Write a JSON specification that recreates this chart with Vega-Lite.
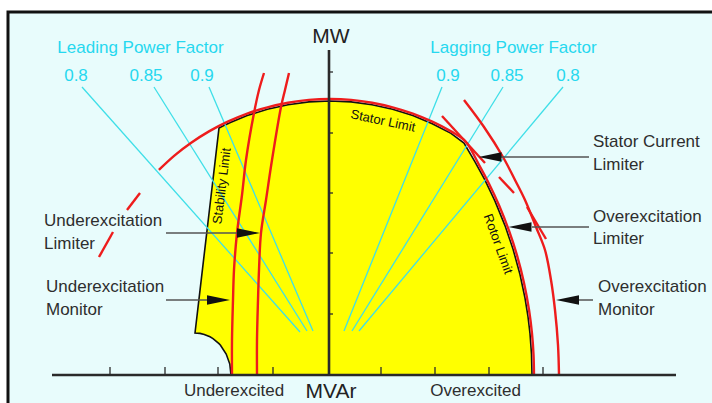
{
  "$schema": "https://vega.github.io/schema/vega-lite/v6.json",
  "width": 712,
  "height": 403,
  "autosize": {"type": "fit", "contains": "padding"},
  "padding": 0,
  "background": "white",
  "config": {"view": {"stroke": null}, "text": {"font": "Liberation Sans"}},
  "datasets": {
    "frame": [{"x": -321, "y": 363, "x2": 420, "y2": -80}],
    "region": [
      {"x": -134, "y": 42, "y2": 42},
      {"x": -129, "y": 84.7, "y2": 41.6},
      {"x": -124.7, "y": 121.4, "y2": 40.6},
      {"x": -119, "y": 170, "y2": 38.2},
      {"x": -116, "y": 195.7, "y2": 36.4},
      {"x": -110, "y": 247, "y2": 31.3},
      {"x": -108.5, "y": 247.8, "y2": 29.7},
      {"x": -102.8, "y": 250.6, "y2": 21},
      {"x": -99.2, "y": 252.2, "y2": 10.9},
      {"x": -98, "y": 252.8, "y2": 0},
      {"x": -81.8, "y": 259.4, "y2": 0},
      {"x": -61.6, "y": 265.7, "y2": 0},
      {"x": -41, "y": 270.3, "y2": 0},
      {"x": -20.1, "y": 273.1, "y2": 0},
      {"x": 1, "y": 274, "y2": 0},
      {"x": 22.1, "y": 273.1, "y2": 0},
      {"x": 43, "y": 270.3, "y2": 0},
      {"x": 63.6, "y": 265.7, "y2": 0},
      {"x": 83.8, "y": 259.4, "y2": 0},
      {"x": 103.3, "y": 251.3, "y2": 0},
      {"x": 122, "y": 241.6, "y2": 0},
      {"x": 135, "y": 232, "y2": 0},
      {"x": 146, "y": 213.1, "y2": 0},
      {"x": 156, "y": 194.8, "y2": 0},
      {"x": 166, "y": 173.9, "y2": 0},
      {"x": 176, "y": 149.4, "y2": 0},
      {"x": 184, "y": 126, "y2": 0},
      {"x": 191, "y": 100.5, "y2": 0},
      {"x": 196, "y": 77, "y2": 0},
      {"x": 199, "y": 58.3, "y2": 0},
      {"x": 201, "y": 41.3, "y2": 0},
      {"x": 202.5, "y": 20.7, "y2": 0},
      {"x": 203, "y": 0, "y2": 0}
    ],
    "red": [
      {"id": "scl", "o": 1, "x": -170.1, "y": 205.1},
      {"id": "scl", "o": 2, "x": -154.6, "y": 219.4},
      {"id": "scl", "o": 3, "x": -137.8, "y": 232.2},
      {"id": "scl", "o": 4, "x": -120, "y": 243.6},
      {"id": "scl", "o": 5, "x": -101.3, "y": 253.3},
      {"id": "scl", "o": 6, "x": -81.8, "y": 261.4},
      {"id": "scl", "o": 7, "x": -61.6, "y": 267.7},
      {"id": "scl", "o": 8, "x": -41, "y": 272.3},
      {"id": "scl", "o": 9, "x": -20.1, "y": 275.1},
      {"id": "scl", "o": 10, "x": 1, "y": 276},
      {"id": "scl", "o": 11, "x": 22.1, "y": 275.1},
      {"id": "scl", "o": 12, "x": 43, "y": 272.3},
      {"id": "scl", "o": 13, "x": 63.6, "y": 267.7},
      {"id": "scl", "o": 14, "x": 83.8, "y": 261.4},
      {"id": "scl", "o": 15, "x": 103.3, "y": 253.3},
      {"id": "scl", "o": 16, "x": 122, "y": 243.6},
      {"id": "scl", "o": 17, "x": 136, "y": 234.2},
      {"id": "scl", "o": 18, "x": 150, "y": 210.2},
      {"id": "scl", "o": 19, "x": 160, "y": 191.3},
      {"id": "scl", "o": 20, "x": 170, "y": 169.7},
      {"id": "scl", "o": 21, "x": 180, "y": 144.3},
      {"id": "scl", "o": 22, "x": 188, "y": 119.6},
      {"id": "scl", "o": 23, "x": 195, "y": 92.1},
      {"id": "scl", "o": 24, "x": 200, "y": 65.3},
      {"id": "scl", "o": 25, "x": 203, "y": 41.4},
      {"id": "scl", "o": 26, "x": 204.5, "y": 20.7},
      {"id": "scl", "o": 27, "x": 205, "y": 0},
      {"id": "dL1", "o": 1, "x": -189, "y": 182},
      {"id": "dL1", "o": 2, "x": -202, "y": 165},
      {"id": "dL2", "o": 1, "x": -216, "y": 143},
      {"id": "dL2", "o": 2, "x": -230, "y": 118},
      {"id": "dR1", "o": 1, "x": 113, "y": 259},
      {"id": "dR1", "o": 2, "x": 156, "y": 212},
      {"id": "dR2", "o": 1, "x": 170, "y": 198},
      {"id": "dR2", "o": 2, "x": 185, "y": 182},
      {"id": "dR3", "o": 1, "x": 198, "y": 168},
      {"id": "dR3", "o": 2, "x": 217, "y": 136},
      {"id": "oem", "o": 1, "x": 135, "y": 275},
      {"id": "oem", "o": 2, "x": 155, "y": 248},
      {"id": "oem", "o": 3, "x": 174, "y": 218},
      {"id": "oem", "o": 4, "x": 186, "y": 195},
      {"id": "oem", "o": 5, "x": 196, "y": 175},
      {"id": "oem", "o": 6, "x": 207, "y": 148},
      {"id": "oem", "o": 7, "x": 216, "y": 125},
      {"id": "oem", "o": 8, "x": 222, "y": 95},
      {"id": "oem", "o": 9, "x": 226, "y": 65},
      {"id": "oem", "o": 10, "x": 229, "y": 30},
      {"id": "oem", "o": 11, "x": 230, "y": 0},
      {"id": "uem", "o": 1, "x": -65, "y": 302},
      {"id": "uem", "o": 2, "x": -70, "y": 285},
      {"id": "uem", "o": 3, "x": -75, "y": 262},
      {"id": "uem", "o": 4, "x": -83, "y": 215},
      {"id": "uem", "o": 5, "x": -87, "y": 180},
      {"id": "uem", "o": 6, "x": -92, "y": 142},
      {"id": "uem", "o": 7, "x": -95, "y": 105},
      {"id": "uem", "o": 8, "x": -96, "y": 75},
      {"id": "uem", "o": 9, "x": -97, "y": 35},
      {"id": "uem", "o": 10, "x": -97, "y": 0},
      {"id": "uel", "o": 1, "x": -40, "y": 302},
      {"id": "uel", "o": 2, "x": -44, "y": 285},
      {"id": "uel", "o": 3, "x": -48, "y": 268},
      {"id": "uel", "o": 4, "x": -57, "y": 215},
      {"id": "uel", "o": 5, "x": -63, "y": 175},
      {"id": "uel", "o": 6, "x": -68, "y": 142},
      {"id": "uel", "o": 7, "x": -70, "y": 105},
      {"id": "uel", "o": 8, "x": -71, "y": 75},
      {"id": "uel", "o": 9, "x": -72, "y": 35},
      {"id": "uel", "o": 10, "x": -72, "y": 0}
    ],
    "pf": [
      {"pf": "0.8 leading", "x": -247, "y": 288, "x2": -29, "y2": 43},
      {"pf": "0.85 leading", "x": -175, "y": 288, "x2": -22, "y2": 44},
      {"pf": "0.9 leading", "x": -120, "y": 288, "x2": -16, "y2": 44},
      {"pf": "0.9 lagging", "x": 113, "y": 288, "x2": 15, "y2": 44},
      {"pf": "0.85 lagging", "x": 174, "y": 288, "x2": 23, "y2": 44},
      {"pf": "0.8 lagging", "x": 234, "y": 288, "x2": 30, "y2": 44}
    ],
    "axes": [
      {"x": -277, "y": 0, "x2": 347, "y2": 0},
      {"x": 0, "y": 0, "x2": 0, "y2": 325}
    ],
    "ticks": [
      {"x": -219, "y": 0, "x2": -219, "y2": 8},
      {"x": -164, "y": 0, "x2": -164, "y2": 8},
      {"x": -111, "y": 0, "x2": -111, "y2": 8},
      {"x": -56, "y": 0, "x2": -56, "y2": 8},
      {"x": 52, "y": 0, "x2": 52, "y2": 8},
      {"x": 106, "y": 0, "x2": 106, "y2": 8},
      {"x": 160, "y": 0, "x2": 160, "y2": 8},
      {"x": 214, "y": 0, "x2": 214, "y2": 8},
      {"x": 0, "y": 61, "x2": 4, "y2": 61},
      {"x": 0, "y": 122, "x2": 4, "y2": 122},
      {"x": 0, "y": 182, "x2": 4, "y2": 182},
      {"x": 0, "y": 242, "x2": 4, "y2": 242},
      {"x": 0, "y": 303, "x2": 4, "y2": 303}
    ],
    "arrowlines": [
      {"name": "UEL", "x": -163, "y": 142, "x2": -92, "y2": 142},
      {"name": "UEM", "x": -163, "y": 75, "x2": -122, "y2": 75},
      {"name": "SCL", "x": 171, "y": 218, "x2": 260, "y2": 218},
      {"name": "OEL", "x": 203, "y": 148, "x2": 260, "y2": 148},
      {"name": "OEM", "x": 249, "y": 75, "x2": 264, "y2": 75}
    ],
    "headsR": [
      {"name": "UEL", "x": -80.5, "y": 142},
      {"name": "UEM", "x": -110.5, "y": 75}
    ],
    "headsL": [
      {"name": "SCL", "x": 161, "y": 218},
      {"name": "OEL", "x": 191, "y": 148},
      {"name": "OEM", "x": 238.5, "y": 75}
    ],
    "labels": [
      {"t": "Underexcitation", "x": -285, "y": 149},
      {"t": "Limiter", "x": -285, "y": 126},
      {"t": "Underexcitation", "x": -283, "y": 83},
      {"t": "Monitor", "x": -283, "y": 60},
      {"t": "Stator Current", "x": 264, "y": 228},
      {"t": "Limiter", "x": 264, "y": 205},
      {"t": "Overexcitation", "x": 264, "y": 153},
      {"t": "Limiter", "x": 264, "y": 131},
      {"t": "Overexcitation", "x": 269, "y": 83},
      {"t": "Monitor", "x": 269, "y": 60}
    ],
    "axistitles": [
      {"t": "MW", "x": 2, "y": 332},
      {"t": "MVAr", "x": 2, "y": -23}
    ],
    "sides": [
      {"t": "Underexcited", "x": -95, "y": -21},
      {"t": "Overexcited", "x": 146.5, "y": -21}
    ],
    "cyantext": [
      {"t": "Leading Power Factor", "x": -188.5, "y": 322},
      {"t": "Lagging Power Factor", "x": 184.5, "y": 322},
      {"t": "0.8", "x": -253, "y": 294},
      {"t": "0.85", "x": -183, "y": 294},
      {"t": "0.9", "x": -127, "y": 294},
      {"t": "0.9", "x": 119, "y": 294},
      {"t": "0.85", "x": 178, "y": 294},
      {"t": "0.8", "x": 239, "y": 294}
    ],
    "statorlabel": [{"t": "Stator Limit", "x": 54, "y": 254}],
    "rotorlabel": [{"t": "Rotor Limit", "x": 169, "y": 131}],
    "stablabel": [{"t": "Stability Limit", "x": -107, "y": 189}]
  },
  "encoding": {
    "x": {"field": "x", "type": "quantitative", "scale": {"domain": [-329, 383], "nice": false, "zero": false}, "axis": null},
    "y": {"field": "y", "type": "quantitative", "scale": {"domain": [-28, 375], "nice": false, "zero": false}, "axis": null}
  },
  "layer": [
    {
      "data": {"name": "frame"},
      "mark": {"type": "rect", "fill": "#e8fcfc", "stroke": "#111111", "strokeWidth": 3, "clip": true},
      "encoding": {"x2": {"field": "x2"}, "y2": {"field": "y2"}}
    },
    {
      "data": {"name": "region"},
      "mark": {"type": "area", "orient": "vertical", "fill": "#ffff00", "fillOpacity": 1, "stroke": "#111111", "strokeWidth": 1.6},
      "encoding": {"y2": {"field": "y2"}}
    },
    {
      "data": {"name": "pf"},
      "mark": {"type": "rule", "color": "#3fdfe8", "strokeWidth": 1.3},
      "encoding": {"x2": {"field": "x2"}, "y2": {"field": "y2"}}
    },
    {
      "data": {"name": "red"},
      "mark": {"type": "line", "color": "#ee1c1c", "strokeWidth": 2.4, "interpolate": "catmull-rom"},
      "encoding": {
        "detail": {"field": "id", "type": "nominal"},
        "order": {"field": "o", "type": "quantitative"}
      }
    },
    {
      "data": {"name": "axes"},
      "mark": {"type": "rule", "color": "#2a2a2a", "strokeWidth": 2.6},
      "encoding": {"x2": {"field": "x2"}, "y2": {"field": "y2"}}
    },
    {
      "data": {"name": "ticks"},
      "mark": {"type": "rule", "color": "#2a2a2a", "strokeWidth": 1.3},
      "encoding": {"x2": {"field": "x2"}, "y2": {"field": "y2"}}
    },
    {
      "data": {"name": "arrowlines"},
      "mark": {"type": "rule", "color": "#555555", "strokeWidth": 1.5},
      "encoding": {"x2": {"field": "x2"}, "y2": {"field": "y2"}}
    },
    {
      "data": {"name": "headsR"},
      "mark": {"type": "point", "shape": "M -1 -0.42 L 1 0 L -1 0.42 Z", "size": 529, "filled": true, "color": "#111111", "opacity": 1, "strokeWidth": 0}
    },
    {
      "data": {"name": "headsL"},
      "mark": {"type": "point", "shape": "M 1 -0.42 L -1 0 L 1 0.42 Z", "size": 529, "filled": true, "color": "#111111", "opacity": 1, "strokeWidth": 0}
    },
    {
      "data": {"name": "labels"},
      "mark": {"type": "text", "align": "left", "baseline": "alphabetic", "fontSize": 17, "color": "#2e2e2e"},
      "encoding": {"text": {"field": "t"}}
    },
    {
      "data": {"name": "axistitles"},
      "mark": {"type": "text", "align": "center", "baseline": "alphabetic", "fontSize": 21, "color": "#222222"},
      "encoding": {"text": {"field": "t"}}
    },
    {
      "data": {"name": "sides"},
      "mark": {"type": "text", "align": "center", "baseline": "alphabetic", "fontSize": 17, "color": "#2e2e2e"},
      "encoding": {"text": {"field": "t"}}
    },
    {
      "data": {"name": "cyantext"},
      "mark": {"type": "text", "align": "center", "baseline": "alphabetic", "fontSize": 17, "color": "#26d8ef"},
      "encoding": {"text": {"field": "t"}}
    },
    {
      "data": {"name": "statorlabel"},
      "mark": {"type": "text", "align": "center", "baseline": "middle", "fontSize": 13, "angle": 12, "color": "#111111"},
      "encoding": {"text": {"field": "t"}}
    },
    {
      "data": {"name": "rotorlabel"},
      "mark": {"type": "text", "align": "center", "baseline": "middle", "fontSize": 13, "angle": 70, "color": "#111111"},
      "encoding": {"text": {"field": "t"}}
    },
    {
      "data": {"name": "stablabel"},
      "mark": {"type": "text", "align": "center", "baseline": "middle", "fontSize": 13, "angle": -83, "color": "#111111"},
      "encoding": {"text": {"field": "t"}}
    }
  ]
}
